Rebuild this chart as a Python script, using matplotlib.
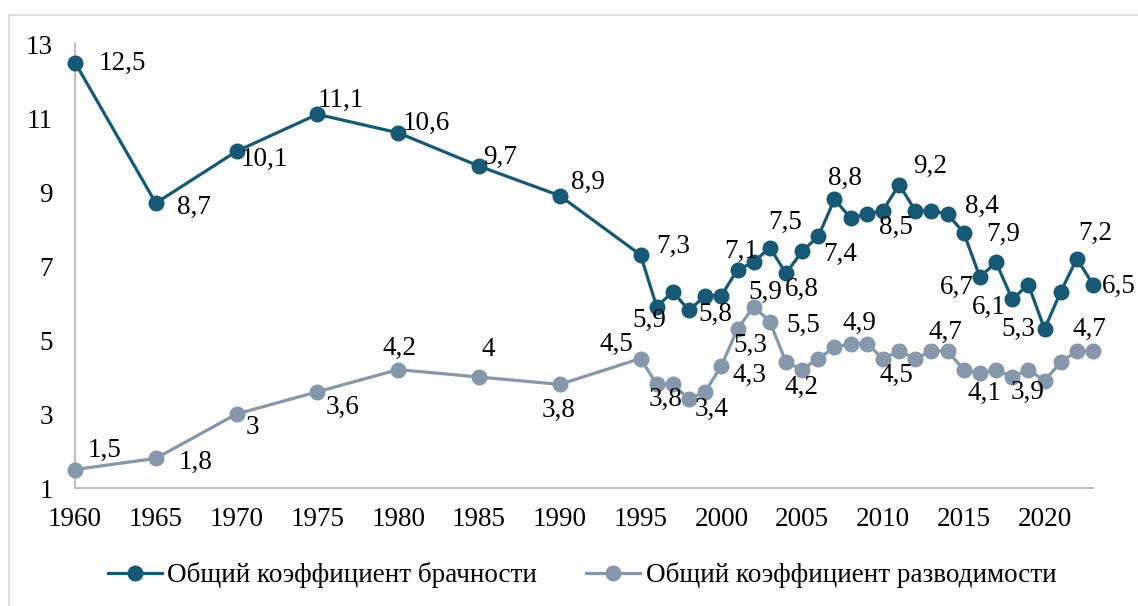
import matplotlib
matplotlib.use("Agg")
import matplotlib.pyplot as plt
from matplotlib.patches import Rectangle

plt.rcParams['font.family'] = ['Liberation Serif', 'DejaVu Serif']

years = [1960, 1965, 1970, 1975, 1980, 1985, 1990, 1995, 1996, 1997, 1998, 1999,
         2000, 2001, 2002, 2003, 2004, 2005, 2006, 2007, 2008, 2009, 2010, 2011,
         2012, 2013, 2014, 2015, 2016, 2017, 2018, 2019, 2020, 2021, 2022, 2023]
marriage = [12.5, 8.7, 10.1, 11.1, 10.6, 9.7, 8.9, 7.3, 5.9, 6.3, 5.8, 6.2,
            6.2, 6.9, 7.1, 7.5, 6.8, 7.4, 7.8, 8.8, 8.3, 8.4, 8.5, 9.2,
            8.5, 8.5, 8.4, 7.9, 6.7, 7.1, 6.1, 6.5, 5.3, 6.3, 7.2, 6.5]
divorce = [1.5, 1.8, 3.0, 3.6, 4.2, 4.0, 3.8, 4.5, 3.8, 3.8, 3.4, 3.6,
           4.3, 5.3, 5.9, 5.5, 4.4, 4.2, 4.5, 4.8, 4.9, 4.9, 4.5, 4.7,
           4.5, 4.7, 4.7, 4.2, 4.1, 4.2, 4.0, 4.2, 3.9, 4.4, 4.7, 4.7]
series_names = ["Общий коэффициент брачности", "Общий коэффициент разводимости"]
x_ticks = [1960, 1965, 1970, 1975, 1980, 1985, 1990, 1995, 2000, 2005, 2010, 2015, 2020]
y_ticks = [1, 3, 5, 7, 9, 11, 13]

# labelled years and label offsets (pixels) for each series
marriage_labels = {1960: (47, -1), 1965: (38, -4), 1970: (28, -8), 1975: (23, 14),
                   1980: (28, 9), 1985: (21, 9), 1990: (28, 13), 1995: (33, 8),
                   1996: (-7, -14), 1998: (26, -4), 2002: (-12, 11), 2003: (15, 25),
                   2004: (16, -16), 2005: (38, -3), 2007: (10, 21), 2010: (13, -17),
                   2011: (31, 18), 2014: (34, 8), 2015: (39, -2), 2016: (-23, -10),
                   2018: (-23, -8), 2020: (-26, -1), 2022: (18, 25), 2023: (26, -2)}
divorce_labels = {1960: (30, 19), 1965: (40, -4), 1970: (16, -14), 1975: (25, -16),
                  1980: (1, 21), 1985: (9, 28), 1990: (-1, -26), 1995: (-24, 14),
                  1996: (9, -15), 1998: (23, -10), 2000: (28, -10), 2001: (13, -17),
                  2002: (12, 14), 2003: (33, -4), 2005: (-1, -18), 2008: (9, 20),
                  2010: (14, -17), 2014: (-2, 19), 2016: (5, -20), 2020: (-17, -12),
                  2023: (-4, 22)}

c_mar = "#175874"
c_div = "#8597AA"
FS = 19.5

fig = plt.figure(figsize=(11.38, 6.06), dpi=100)
ax = fig.add_axes([75 / 1138, 1 - 488 / 606, (1093 - 75) / 1138, (488 - 44) / 606])

ax.plot(years, marriage, color=c_mar, lw=2.3, marker='o', ms=10.5, label=series_names[0],
        clip_on=False, zorder=3)
ax.plot(years, divorce, color=c_div, lw=2.3, marker='o', ms=10.5, label=series_names[1],
        clip_on=False, zorder=3)


def fmt(v):
    s = ("%.1f" % v).rstrip('0').rstrip('.')
    return s.replace('.', ',')


for vals, labs in ((marriage, marriage_labels), (divorce, divorce_labels)):
    for yr, (dx, dy) in labs.items():
        v = vals[years.index(yr)]
        ax.annotate(fmt(v), xy=(yr, v), xytext=(dx, dy), textcoords='offset pixels',
                    ha='center', va='center', fontsize=FS, color='black',
                    annotation_clip=False, zorder=4)

ax.set_xlim(1960, 2023)
ax.set_ylim(1, 13)
ax.set_xticks(x_ticks)
ax.set_yticks(y_ticks)
ax.set_xticklabels([str(t) for t in x_ticks])
ax.set_yticklabels([str(t) for t in y_ticks])
ax.tick_params(axis='both', length=0, labelsize=FS)
ax.tick_params(axis='y', pad=16)
ax.tick_params(axis='x', pad=14)
for s in ('top', 'right'):
    ax.spines[s].set_visible(False)
for s in ('left', 'bottom'):
    ax.spines[s].set_color('#BFBFBF')
    ax.spines[s].set_linewidth(1.5)

fig.legend(loc='center', bbox_to_anchor=(582 / 1138, 1 - 575 / 606), ncol=2, frameon=False,
           fontsize=FS, handlelength=2.0, handletextpad=0.2, columnspacing=1.8,
           borderaxespad=0)

fig.patches.append(Rectangle((9 / 1138, -0.05), 1.1, 1 - 15 / 606 + 0.05,
                             transform=fig.transFigure, fill=False,
                             edgecolor='#D9D9D9', lw=1.2))

fig.savefig("out.png", dpi=100)
